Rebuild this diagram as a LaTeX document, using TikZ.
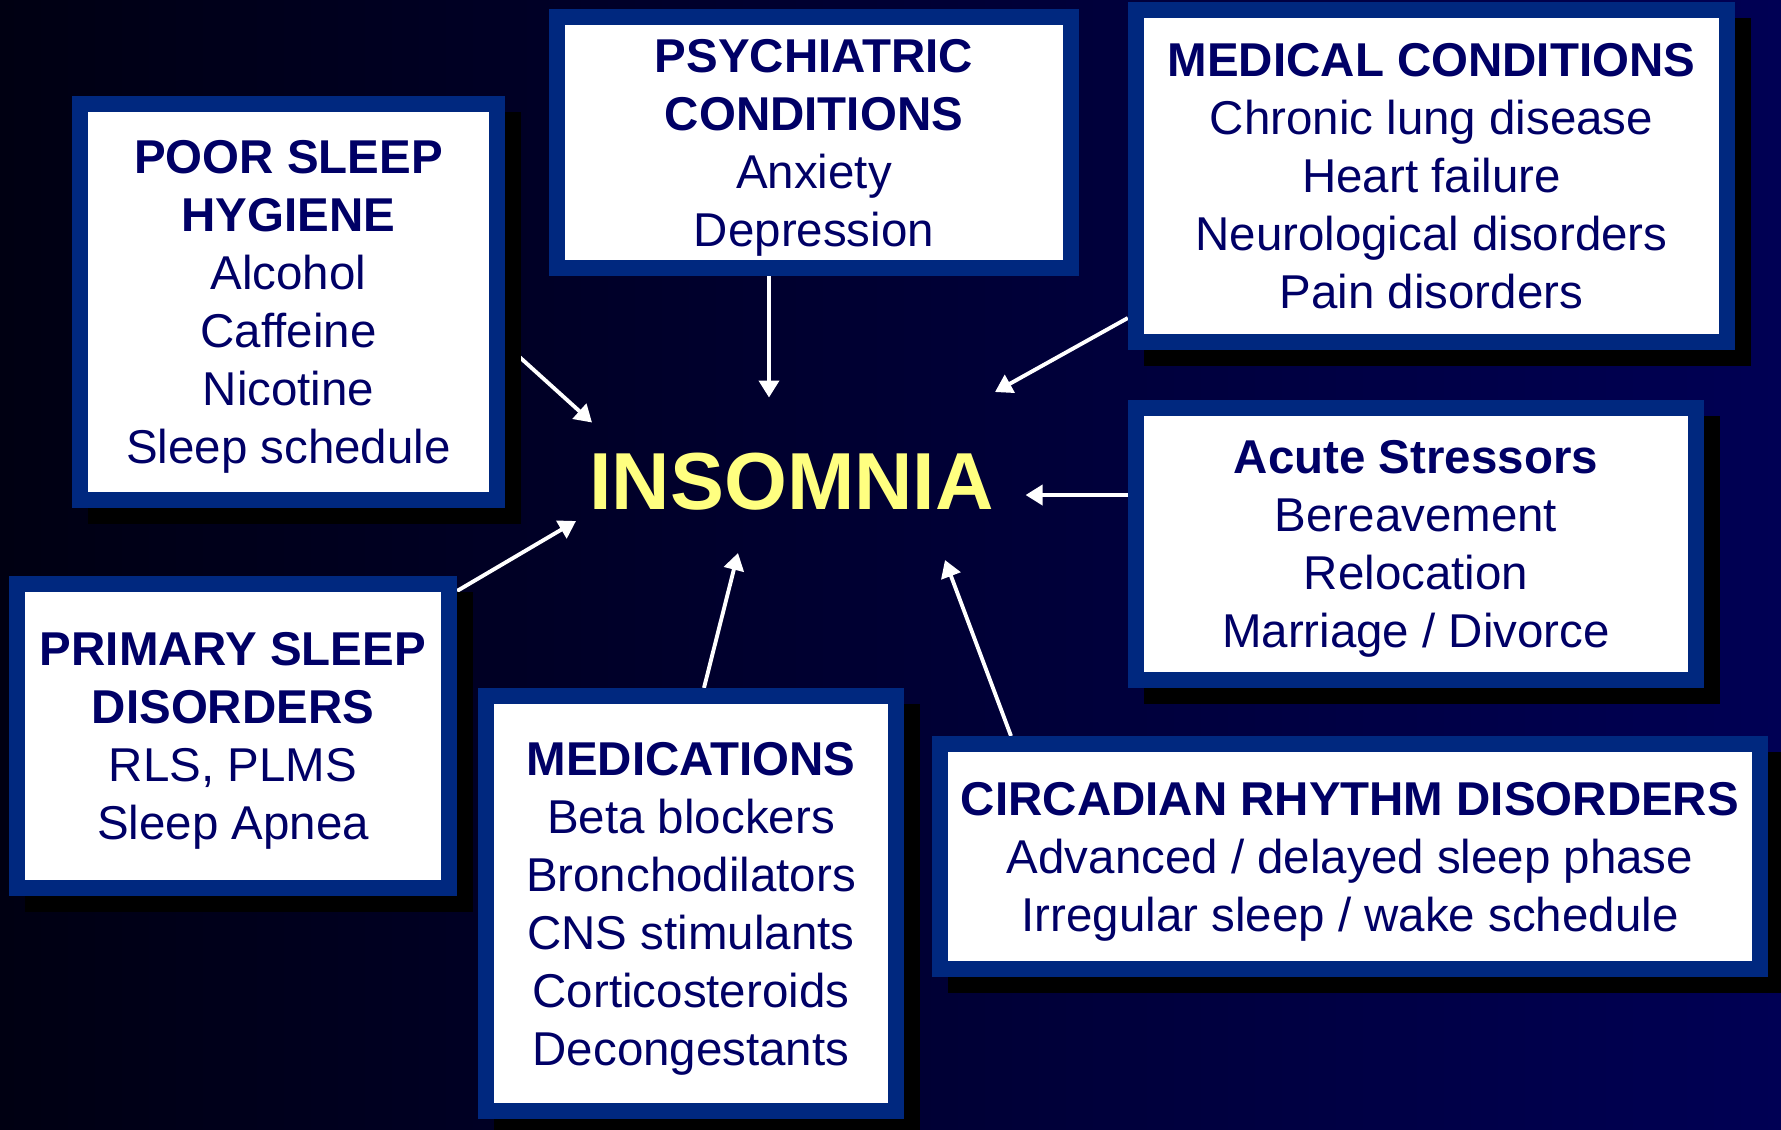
\documentclass[tikz,border=0pt]{standalone}
\usepackage{fontspec}
\setmainfont{Liberation Sans}
\usetikzlibrary{arrows.meta,calc,shadows}
\definecolor{ink}{HTML}{000066}
\definecolor{rim}{HTML}{00287F}
\definecolor{glow}{HTML}{FFFF80}
\definecolor{nightL}{HTML}{000012}
\definecolor{nightR}{HTML}{000054}
\pgfdeclarelayer{bg}
\pgfdeclarelayer{links}
\pgfsetlayers{bg,links,main}
\begin{document}
\begin{tikzpicture}[x=0.01cm,y=-0.01cm,
  box/.style={draw=rim,fill=white,line width=0.16cm,text=ink,align=center,inner sep=0pt,
    font=\fontsize{13.5}{16.5}\selectfont,text depth=0pt,
    execute at begin node={\rule{0pt}{11.8pt}}},
  shadowed/.style={box,
    drop shadow={shadow xshift=0.16cm,shadow yshift=-0.16cm,fill=black,draw=black,opacity=1}},
  arr/.style={draw=white,line width=1.1pt,-{Triangle[length=1.7mm,width=2mm]}}]
  \useasboundingbox (0,0) rectangle (1781,1129);
  \begin{pgfonlayer}{bg}
    \shade[left color=nightL,right color=nightR] (0,0) rectangle (1781,1129);
  \end{pgfonlayer}
  \node[shadowed,minimum width=4.17cm,minimum height=3.96cm] (hyg) at (288.5,302)
    {\textbf{POOR SLEEP}\\\textbf{HYGIENE}\\Alcohol\\Caffeine\\Nicotine\\Sleep schedule};
  \node[box,minimum width=5.14cm,minimum height=2.51cm] (psy) at (814,142.5)
    {\textbf{PSYCHIATRIC}\\\textbf{CONDITIONS}\\Anxiety\\Depression};
  \node[shadowed,minimum width=5.91cm,minimum height=3.32cm] (med) at (1431.5,176)
    {\textbf{MEDICAL CONDITIONS}\\Chronic lung disease\\Heart failure\\Neurological disorders\\Pain disorders};
  \node[shadowed,minimum width=5.60cm,minimum height=2.72cm] (acu) at (1416,544)
    {\textbf{Acute Stressors}\\Bereavement\\Relocation\\Marriage / Divorce};
  \node[shadowed,minimum width=4.32cm,minimum height=3.04cm] (pri) at (233,736)
    {\textbf{PRIMARY SLEEP}\\\textbf{DISORDERS}\\RLS, PLMS\\Sleep Apnea};
  \node[shadowed,minimum width=4.10cm,minimum height=4.15cm] (drug) at (691,903.5)
    {\textbf{MEDICATIONS}\\Beta blockers\\Bronchodilators\\CNS stimulants\\Corticosteroids\\Decongestants};
  \node[shadowed,minimum width=8.20cm,minimum height=2.25cm] (circ) at (1350,856.5)
    {\textbf{CIRCADIAN RHYTHM DISORDERS}\\Advanced / delayed sleep phase\\Irregular sleep / wake schedule};
  \node[text=glow,font=\fontsize{23}{27}\selectfont\bfseries] (ins) at (791.6,482) {INSOMNIA};
  \coordinate (t1) at (592,422.5);
  \coordinate (t2) at (769,397.5);
  \coordinate (t3) at (995,392);
  \coordinate (t4) at (1025.6,495);
  \coordinate (t5) at (945,560);
  \coordinate (t6) at (738,553);
  \coordinate (t7) at (576,521);
  \begin{pgfonlayer}{links}
    \draw[arr] ($(hyg.east)+(0,42)$) -- (t1);
    \draw[arr] ($(psy.south)+(-45,0)$) -- (t2);
    \draw[arr] ($(med.west)+(0,142)$) -- (t3);
    \draw[arr] ($(acu.west)+(0,-49)$) -- (t4);
    \draw[arr] ($(circ.north)+(-339,0)$) -- (t5);
    \draw[arr] ($(drug.north)+(13,0)$) -- (t6);
    \draw[arr] ($(pri.north east)+(0,15)$) -- (t7);
  \end{pgfonlayer}
\end{tikzpicture}
\end{document}
